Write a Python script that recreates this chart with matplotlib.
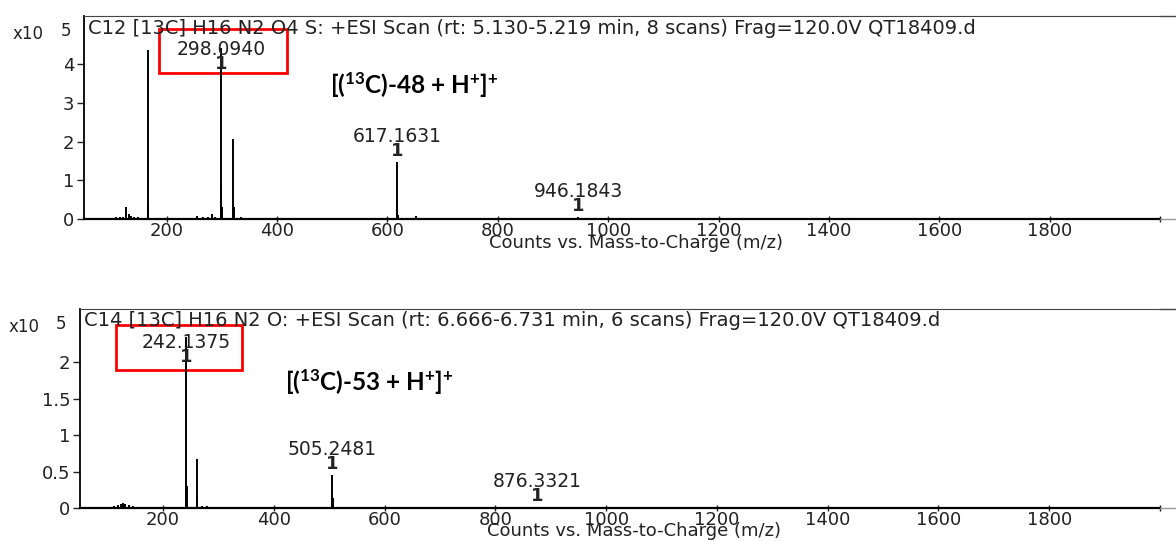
"""
Two ESI mass spectra (13C-labelled compounds 48 and 53), redrawn as stick plots.
"""
import matplotlib
matplotlib.use("Agg")
import matplotlib.pyplot as plt
from matplotlib.patches import Rectangle
from matplotlib.lines import Line2D

plt.rcParams['font.family'] = ['DejaVu Sans']
plt.rcParams['mathtext.fontset'] = 'custom'
plt.rcParams['mathtext.rm'] = 'Lato:bold'
plt.rcParams['mathtext.it'] = 'Lato:bold'
plt.rcParams['mathtext.bf'] = 'Lato:bold'

# --- spectrum 1: [(13C)-48 + H+]+ , intensities in units of 1e5 counts ---
title_48 = "C12 [13C] H16 N2 O4 S: +ESI Scan (rt: 5.130-5.219 min, 8 scans) Frag=120.0V QT18409.d"
mz_48 = [100, 108, 115, 120, 127, 131, 136, 141, 148, 155, 165.5, 166.5, 185, 210, 230,
         255, 265, 275, 282, 287, 298.094, 299.1, 300.1, 320.1, 321.1, 322.1, 335, 342,
         510, 600, 617.1631, 618.17, 619.2, 651, 940, 946.1843]
int_48 = [0.03, 0.04, 0.06, 0.04, 0.32, 0.12, 0.08, 0.06, 0.05, 0.03, 4.36, 0.35, 0.02, 0.02, 0.03,
          0.08, 0.05, 0.06, 0.12, 0.04, 4.42, 0.75, 0.30, 2.06, 0.32, 0.08, 0.05, 0.03,
          0.03, 0.03, 1.47, 0.35, 0.10, 0.07, 0.03, 0.05]
labels_48 = [298.0940, 617.1631, 946.1843]
label_int_48 = [4.42, 1.47, 0.05]
ann_48 = "[(${}^{13}$C)-48 + H$^{+}$]$^{+}$"

# --- spectrum 2: [(13C)-53 + H+]+ ---
title_53 = "C14 [13C] H16 N2 O: +ESI Scan (rt: 6.666-6.731 min, 6 scans) Frag=120.0V QT18409.d"
mz_53 = [105, 112, 118, 124, 128, 132, 138, 145, 152, 170, 190, 242.1375, 243.14, 261.1,
         262.1, 270, 280, 290, 300, 320, 335, 420, 480, 505.2481, 506.25, 530, 876.3321]
int_53 = [0.02, 0.03, 0.04, 0.05, 0.07, 0.06, 0.04, 0.03, 0.02, 0.02, 0.01, 2.34, 0.30, 0.67,
          0.10, 0.03, 0.03, 0.02, 0.02, 0.02, 0.01, 0.01, 0.02, 0.45, 0.14, 0.01, 0.01]
labels_53 = [242.1375, 505.2481, 876.3321]
label_int_53 = [2.34, 0.45, 0.01]
ann_53 = "[(${}^{13}$C)-53 + H$^{+}$]$^{+}$"

yticks_48 = [0, 1, 2, 3, 4]
yticks_53 = [0, 0.5, 1, 1.5, 2]
xticks = [200, 400, 600, 800, 1000, 1200, 1400, 1600, 1800, 2000]

txt = '#222222'
fig = plt.figure(figsize=(11.76, 5.41), dpi=100)
ax1 = fig.add_axes([0.0714, 0.5952, 0.915, 0.3752])
ax2 = fig.add_axes([0.0680, 0.0610, 0.9184, 0.3678])


def draw_spectrum(ax, title, mz, inten, lab_mz, lab_int, yticks, ymax, ann, ann_xy, box):
    ax.vlines(mz, 0, inten, color='black', lw=1.4)
    ax.set_xlim(50, 2000)
    ax.set_ylim(0, ymax)
    ax.spines['right'].set_visible(False)
    ax.spines['left'].set_linewidth(1.3)
    ax.spines['bottom'].set_linewidth(1.6)
    ax.spines['top'].set_color('#444444')
    ax.set_xticks(xticks)
    ax.set_xticklabels([str(t) if t < 2000 else '' for t in xticks])
    ax.set_yticks(yticks)
    ax.set_yticklabels([('%g' % t) for t in yticks])
    ax.tick_params(axis='x', direction='inout', length=5, width=1, labelsize=13,
                   pad=0, colors=txt)
    ax.tick_params(axis='y', direction='out', length=5, width=1, labelsize=13,
                   pad=2, colors=txt)
    ax.text(0.004, 0.94, title, transform=ax.transAxes, fontsize=14, color=txt,
            ha='left', va='center')
    ax.text(-0.066, 0.91, 'x10', transform=ax.transAxes, fontsize=12, color=txt,
            ha='left', va='center')
    ax.text(-0.022, 0.925, '5', transform=ax.transAxes, fontsize=12, color=txt,
            ha='left', va='center')
    ax.text(0.5132, -0.118, 'Counts vs. Mass-to-Charge (m/z)', transform=ax.transAxes,
            fontsize=13, color=txt, ha='center', va='center')

    # peak labels: sit above the stick, pushed down when they hit the frame
    top_px = ax.transAxes.transform((0, 1))[1]
    inv = ax.transData.inverted()
    for m, h in zip(lab_mz, lab_int):
        peak_px = ax.transData.transform((m, h))[1]
        num_px = min(peak_px + 26, top_px - 33)
        one_px = num_px - 15
        y_num = inv.transform((0, num_px))[1]
        y_one = inv.transform((0, one_px))[1]
        ax.text(m, y_num, '%.4f' % m, fontsize=13.5, color=txt, ha='center', va='center')
        ax.text(m, y_one, '1', fontsize=13, fontweight='bold', color=txt,
                ha='center', va='center')

    ax.add_patch(Rectangle(box[:2], box[2], box[3], transform=ax.transAxes,
                           fill=False, edgecolor='red', lw=2, clip_on=False))
    ax.text(ann_xy[0], ann_xy[1], ann, transform=ax.transAxes, fontsize=17.5,
            family='Lato', fontweight='bold', color='black', ha='left', va='center')


draw_spectrum(ax1, title_48, mz_48, int_48, labels_48, label_int_48, yticks_48, 5.24,
              ann_48, (0.2286, 0.66), (0.0697, 0.719, 0.119, 0.217))
draw_spectrum(ax2, title_53, mz_53, int_53, labels_53, label_int_53, yticks_53, 2.73,
              ann_53, (0.19, 0.633), (0.0333, 0.693, 0.1167, 0.226))

# frame line and axis run on past the plotted range
for ax in (ax1, ax2):
    pos = ax.get_position()
    fig.add_artist(Line2D([pos.x1, 1.0], [pos.y1, pos.y1], color='#444444', lw=1))
    fig.add_artist(Line2D([pos.x1, 1.0], [pos.y0, pos.y0], color='#999999', lw=1))

fig.savefig('out.png', dpi=100)
